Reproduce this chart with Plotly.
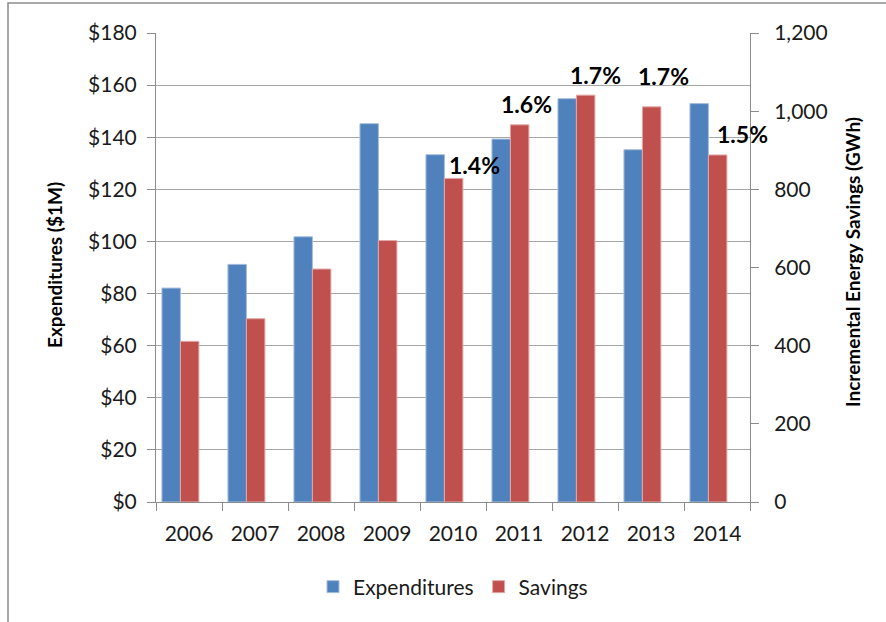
import plotly.graph_objects as go
from plotly.subplots import make_subplots

years = ["2006", "2007", "2008", "2009", "2010", "2011", "2012", "2013", "2014"]
expenditures = [82.1, 91.2, 101.8, 145.2, 133.3, 139.3, 154.8, 135.2, 152.9]
savings_gwh = [411, 469, 596, 669, 828, 965, 1041, 1011, 888]

pct_years = ["2010", "2011", "2012", "2013", "2014"]
pct_labels = ["1.4%", "1.6%", "1.7%", "1.7%", "1.5%"]
# label placement offsets (px) relative to savings bar top
pct_xshift = [21, 7, 10, 12, 25]
pct_yshift = [13, 21, 20, 31, 21]

left_ticks = [0, 20, 40, 60, 80, 100, 120, 140, 160, 180]
right_ticks = [0, 200, 400, 600, 800, 1000, 1200]

BLUE = "#4F81BD"
RED = "#C0504D"
FONT = "Lato"
AXIS_COLOR = "#8C8C8C"
GRID_COLOR = "#A6A6A6"
TXT = "#1a1a1a"

fig = make_subplots(specs=[[{"secondary_y": True}]])

fig.add_trace(go.Bar(
    x=years, y=expenditures, name="Expenditures",
    marker=dict(color=BLUE, line=dict(color="#A7BFDE", width=1)),
    offset=-0.41, width=0.28,
), secondary_y=False)

fig.add_trace(go.Bar(
    x=years, y=savings_gwh, name="Savings",
    marker=dict(color=RED, line=dict(color="#E0A8A6", width=1)),
    offset=-0.13, width=0.28,
), secondary_y=True)

sav_map = dict(zip(years, savings_gwh))
for yr, lab, xs, ys in zip(pct_years, pct_labels, pct_xshift, pct_yshift):
    fig.add_annotation(
        x=years.index(yr), y=sav_map[yr], xref="x", yref="y2",
        text=lab, showarrow=False,
        xshift=xs, yshift=ys, xanchor="center", yanchor="middle",
        font=dict(family=FONT, size=23, color="black", weight="bold"),
    )

ml, mr, mt, mb = 156, 136, 33, 120
W, H = 886, 622
pw, ph = W - ml - mr, H - mt - mb

# axis titles
fig.add_annotation(
    xref="paper", yref="paper", x=(54 - ml) / pw, y=(502 - 265) / ph,
    text="Expenditures ($1M)", textangle=-90, showarrow=False,
    xanchor="center", yanchor="middle",
    font=dict(family=FONT, size=19, color="black", weight="bold"),
)
fig.add_annotation(
    xref="paper", yref="paper", x=(852 - ml) / pw, y=(502 - 262) / ph,
    text="Incremental Energy Savings (GWh)", textangle=-90, showarrow=False,
    xanchor="center", yanchor="middle",
    font=dict(family=FONT, size=19, color="black", weight="bold"),
)

bx = (8 - ml) / pw
by = 1 + (mt - 3) / ph
fig.add_shape(
    type="path", xref="paper", yref="paper",
    path=f"M {bx} -0.5 L {bx} {by} L 1.5 {by}",
    line=dict(color="#8C8C8C", width=1.5),
)

fig.update_layout(
    width=W, height=H,
    margin=dict(l=ml, r=mr, t=mt, b=mb, autoexpand=False),
    paper_bgcolor="white", plot_bgcolor="white",
    barmode="overlay",
    font=dict(family=FONT, size=21, color=TXT),
    showlegend=True,
    legend=dict(
        orientation="h", x=0.5, xanchor="center",
        y=(502 - 587) / ph, yanchor="middle",
        font=dict(family=FONT, size=21, color=TXT),
        itemwidth=30, traceorder="normal",
    ),
)

fig.update_xaxes(
    type="category", tickson="boundaries", domain=[0, 1],
    range=[-0.5, len(years) - 0.5],
    ticks="outside", ticklen=8, tickcolor=AXIS_COLOR,
    showline=True, linecolor=AXIS_COLOR, linewidth=1,
    showgrid=False, automargin=False, ticklabelstandoff=13,
    tickfont=dict(family=FONT, size=21, color=TXT),
)

fig.update_yaxes(
    range=[0, 180], tickvals=left_ticks,
    ticktext=[f"${v}" for v in left_ticks],
    ticks="outside", ticklen=8, tickcolor=AXIS_COLOR,
    showline=True, linecolor=AXIS_COLOR, linewidth=1,
    showgrid=True, gridcolor=GRID_COLOR, gridwidth=1,
    zeroline=False, automargin=False, ticklabelstandoff=6,
    tickfont=dict(family=FONT, size=21, color=TXT),
    secondary_y=False,
)

fig.update_yaxes(
    range=[0, 1200], tickvals=right_ticks,
    ticktext=[f"{v:,}" for v in right_ticks],
    ticks="outside", ticklen=8, tickcolor=AXIS_COLOR,
    showline=True, linecolor=AXIS_COLOR, linewidth=1,
    showgrid=False, zeroline=False, automargin=False, ticklabelstandoff=11,
    tickfont=dict(family=FONT, size=21, color=TXT),
    secondary_y=True,
)

fig.write_html("out.html", config={"displayModeBar": False},
               post_script="document.body.style.margin='0px';")
